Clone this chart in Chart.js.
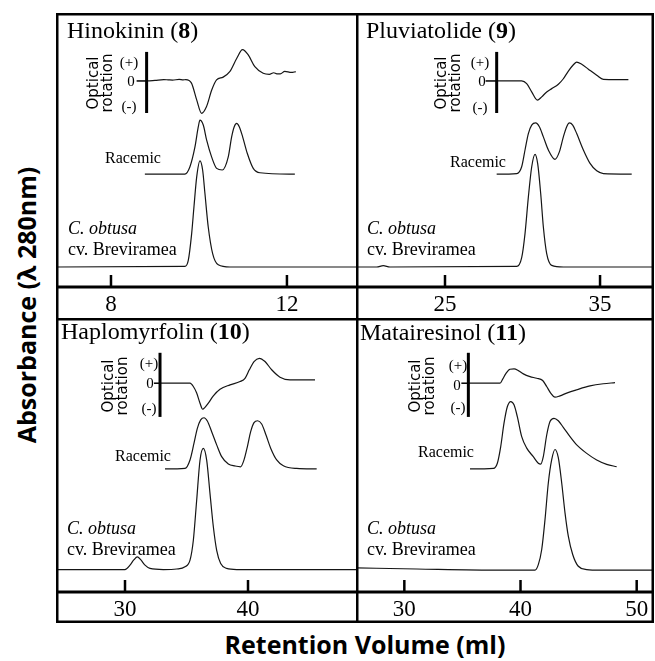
<!DOCTYPE html>
<html>
<head>
<meta charset="utf-8">
<title>Chiral HPLC of lignans</title>
<script src="https://cdn.jsdelivr.net/npm/chart.js@4.4.0/dist/chart.umd.min.js"></script>
<style>
  html, body { margin:0; padding:0; background:#fff; }
  #fig { position:relative; width:655px; height:661px; overflow:hidden; background:#fff; }
  #fig canvas { position:absolute; }
  .t { position:absolute; white-space:nowrap; line-height:1; color:#000;
       font-family:'Liberation Serif','Times New Roman',serif; }
  .title { font-size:24px; }
  .samp { font-size:18px; line-height:21px; }
  .rac { font-size:16px; }
  .orl { font-size:15px; transform:translate(-50%,-50%); }
  .orname { font-family:'DejaVu Sans',sans-serif; font-size:15px; line-height:14px; text-align:center;
            transform:translate(-50%,-50%) rotate(-90deg); }
  .axt { font-family:'Open Sans',sans-serif; font-weight:bold; font-size:25px; }
</style>
</head>
<body>
<div id="fig">
  <canvas id="c1" width="300" height="305" style="left:56px;top:13px"></canvas>
  <canvas id="c2" width="298" height="305" style="left:356px;top:13px"></canvas>
  <canvas id="c3" width="300" height="305" style="left:56px;top:318px"></canvas>
  <canvas id="c4" width="298" height="305" style="left:356px;top:318px"></canvas>

  <!-- panel labels -->
  <div class="t title" style="left:67px;top:18px">Hinokinin (<b>8</b>)</div>
  <div class="t title" style="left:366px;top:18px">Pluviatolide (<b>9</b>)</div>
  <div class="t title" style="left:61px;top:319px">Haplomyrfolin (<b>10</b>)</div>
  <div class="t title" style="left:360px;top:320px">Matairesinol (<b>11</b>)</div>

  <div class="t samp" style="left:68px;top:218px"><i>C. obtusa</i><br>cv. Breviramea</div>
  <div class="t samp" style="left:367px;top:218px"><i>C. obtusa</i><br>cv. Breviramea</div>
  <div class="t samp" style="left:67px;top:518px"><i>C. obtusa</i><br>cv. Breviramea</div>
  <div class="t samp" style="left:367px;top:518px"><i>C. obtusa</i><br>cv. Breviramea</div>

  <div class="t rac" style="left:105px;top:150px">Racemic</div>
  <div class="t rac" style="left:450px;top:154px">Racemic</div>
  <div class="t rac" style="left:115px;top:448px">Racemic</div>
  <div class="t rac" style="left:418px;top:444px">Racemic</div>

  <!-- optical rotation insets -->
  <div class="t orname" style="left:100px;top:83px">Optical<br>rotation</div>
  <div class="t orl" style="left:129px;top:62px">(+)</div>
  <div class="t orl" style="left:131px;top:81px">0</div>
  <div class="t orl" style="left:129px;top:106px">(-)</div>

  <div class="t orname" style="left:448px;top:83px">Optical<br>rotation</div>
  <div class="t orl" style="left:480px;top:62px">(+)</div>
  <div class="t orl" style="left:482px;top:81px">0</div>
  <div class="t orl" style="left:480px;top:107px">(-)</div>

  <div class="t orname" style="left:115px;top:386px">Optical<br>rotation</div>
  <div class="t orl" style="left:149px;top:363px">(+)</div>
  <div class="t orl" style="left:150px;top:383px">0</div>
  <div class="t orl" style="left:149px;top:408px">(-)</div>

  <div class="t orname" style="left:422px;top:386px">Optical<br>rotation</div>
  <div class="t orl" style="left:458px;top:365px">(+)</div>
  <div class="t orl" style="left:457px;top:385px">0</div>
  <div class="t orl" style="left:458px;top:407px">(-)</div>

  <!-- axis titles -->
  <div class="t axt" style="left:26px;top:305px;transform:translate(-50%,-50%) rotate(-90deg)">Absorbance (λ 280nm)</div>
  <div class="t axt" style="left:365px;top:632px;transform:translateX(-50%)">Retention Volume (ml)</div>
</div>

<script>
/* Chiral HPLC traces — optical rotation / racemic / C. obtusa per lignan */

// x ranges (ml) and tick labels per panel
const hinoRange = [6.75, 13.57],   hinoTicks = [8, 12];
const pluRange  = [19.26, 38.48],  pluTicks  = [25, 35];
const hapRange  = [24.39, 48.78],  hapTicks  = [30, 40];
const matRange  = [25.84, 51.49],  matTicks  = [30, 40, 50];

// Hinokinin (8)
const hinoOrVol  = [8.81, 9.0, 9.2, 9.3, 9.4, 9.55, 9.64, 9.7, 9.83, 9.95, 10.06, 10.17, 10.29, 10.40, 10.55, 10.70, 10.86, 10.99, 11.12, 11.27, 11.46, 11.6, 11.7, 11.77, 11.85, 11.95, 12.1, 12.20];
const hinoOrVal  = [0, 0.2, 0.5, 0.4, 0.3, 0.6, 0.4, 0.5, -0.8, -7.0, -11.8, -9.4, -3.3, 0.4, 1.4, 3.4, 8.3, 11.4, 9.5, 5.2, 2.8, 2.4, 3.0, 2.6, 2.6, 3.5, 3.1, 3.4];
const hinoRacVol = [8.77, 9.68, 9.795, 9.909, 9.984, 10.023, 10.098, 10.175, 10.289, 10.402, 10.53, 10.666, 10.743, 10.802, 10.857, 10.916, 10.993, 11.098, 11.234, 11.386, 12.18];
const hinoRacVal = [0, 0, 2.7, 9.9, 17.2, 19.7, 17.9, 12.4, 6.2, 2.1, 1.5, 6.3, 13.6, 17.3, 18.5, 17.3, 13.6, 7.6, 2.1, 0.5, 0];
const hinoObtVol = [6.75, 9.68, 9.757, 9.834, 9.886, 9.948, 10.023, 10.084, 10.136, 10.211, 10.311, 10.439, 10.705, 13.57];
const hinoObtVal = [0, 0.2, 2.4, 12.2, 21.9, 32.8, 38.7, 35.3, 26.8, 14.6, 4.9, 0.8, 0, 0];

// Pluviatolide (9)
const pluOrVol  = [28.333, 29.946, 30.269, 30.591, 30.957, 31.237, 31.559, 31.882, 32.312, 32.634, 32.957, 33.280, 33.495, 33.817, 34.247, 34.785, 35.215, 36.075, 36.828];
const pluOrVal  = [0, 0, -1.0, -4.0, -7.0, -5.8, -4.0, -2.8, -1.2, 0.8, 3.6, 5.9, 6.9, 6.1, 4.3, 2.1, 0.6, 0.5, 0.5];
const pluRacVol = [28.333, 29.624, 29.946, 30.161, 30.376, 30.591, 30.849, 31.086, 31.344, 31.667, 32.097, 32.376, 32.634, 32.849, 33.022, 33.237, 33.495, 33.925, 34.355, 34.785, 35.215, 37.043];
const pluRacVal = [0, 0.2, 2.7, 8.8, 14.8, 17.9, 18.7, 17.3, 13.6, 8.8, 5.4, 8.1, 13.6, 17.3, 18.7, 17.9, 14.8, 8.8, 3.9, 1.2, 0.2, 0];
const pluObtVol = [19.26, 20.59, 21.02, 21.45, 29.624, 29.946, 30.161, 30.376, 30.591, 30.806, 30.978, 31.172, 31.344, 31.559, 31.882, 32.634, 38.48];
const pluObtVal = [0, 0, 0.5, 0, 0.2, 3.4, 12.2, 25.5, 36.5, 41.1, 37.7, 26.8, 14.6, 4.9, 0.6, 0, 0];

// Haplomyrfolin (10)
const hapOrVol  = [32.846, 35.285, 35.556, 35.827, 36.098, 36.314, 36.504, 36.775, 37.182, 37.724, 38.537, 39.350, 39.756, 40.108, 40.488, 40.922, 41.382, 41.924, 42.602, 43.415, 45.447];
const hapOrVal  = [0, 0, -1.2, -3.6, -7.3, -9.5, -8.8, -7.3, -4.6, -2.2, -0.6, 0.6, 1.8, 4.9, 7.9, 9.1, 7.9, 4.9, 2.2, 1.2, 1.2];
const hapRacVol = [33.252, 34.878, 35.285, 35.610, 35.881, 36.152, 36.423, 36.694, 37.046, 37.453, 37.859, 38.401, 38.943, 39.404, 39.675, 39.946, 40.217, 40.488, 40.786, 41.111, 41.463, 41.843, 42.331, 42.873, 43.957, 45.583];
const hapRacVal = [0, 0.2, 3.3, 9.4, 14.8, 17.9, 18.7, 17.5, 13.6, 8.8, 4.5, 1.8, 1.1, 0.8, 3.3, 8.1, 13.6, 16.9, 17.6, 16.4, 12.4, 7.6, 3.3, 1.2, 0.2, 0];
const hapObtVol = [24.39, 30.0, 30.407, 30.732, 31.0, 31.274, 31.626, 32.033, 33.117, 34.201, 34.878, 35.285, 35.556, 35.827, 36.098, 36.369, 36.640, 36.911, 37.182, 37.453, 37.778, 38.266, 39.079, 48.78];
const hapObtVal = [0, 0, 1.6, 3.6, 4.6, 3.6, 1.6, 0.4, 0, 0.2, 1.0, 3.4, 10.7, 25.3, 39.9, 44.2, 39.9, 27.7, 15.6, 7.0, 2.2, 0.4, 0, 0];

// Matairesinol (11)
const matOrVol  = [35.511, 38.236, 38.465, 38.752, 39.096, 39.440, 39.813, 40.244, 40.818, 41.392, 41.908, 42.252, 42.596, 42.969, 43.399, 43.972, 44.833, 45.981, 47.126, 48.133];
const matOrVal  = [0, 0, 1.5, 3.6, 5.1, 5.2, 4.6, 3.4, 2.4, 1.8, 1.0, -1.2, -3.6, -5.1, -4.6, -3.6, -2.4, -1.0, -0.2, 0.2];
const matRacVol = [35.654, 37.662, 38.006, 38.293, 38.580, 38.864, 39.157, 39.440, 39.725, 40.103, 40.534, 41.101, 41.532, 41.739, 41.962, 42.255, 42.539, 42.883, 43.253, 43.683, 44.260, 44.836, 45.697, 46.558, 47.418, 48.279];
const matRacVal = [0, 0.2, 2.1, 8.1, 16.7, 22.7, 24.6, 23.4, 19.1, 11.8, 7.6, 4.5, 2.1, 1.8, 4.5, 12.4, 17.3, 18.5, 17.6, 15.2, 11.8, 8.8, 5.7, 3.3, 1.7, 0.8];
const matObtVol = [25.84, 31.067, 38.236, 41.248, 41.532, 41.825, 42.108, 42.393, 42.685, 42.969, 43.253, 43.546, 43.830, 44.114, 44.492, 44.974, 45.697, 46.842, 51.49];
const matObtVal = [0.6, 0.2, -0.2, -0.2, 1.8, 7.3, 18.2, 31.6, 40.1, 43.8, 40.8, 31.6, 20.7, 12.2, 5.5, 1.2, 0, -0.2, -0.2];

// vertical stacking of the three traces (y axis runs 0..100)
const topBase = {obt: 7.3, rac: 41.2, or: 75.2};
const botBase = {obt: 8.2, rac: 44.9, or: 76.2};

function trace(vol, val, base){ return vol.map((v, i) => ({x: v, y: base + val[i]})); }

// frame lines, inward x ticks and the little optical-rotation axis
const frame = {
  id: 'frame',
  afterDraw(chart, args, o){
    const {ctx, chartArea: a, width, height} = chart;
    const sx = chart.scales.x, sy = chart.scales.y;
    ctx.save();
    ctx.strokeStyle = '#000';
    ctx.lineWidth = 2.5;
    ctx.beginPath();
    ctx.moveTo(0, 1.25); ctx.lineTo(width, 1.25);
    ctx.moveTo(1.25, 0); ctx.lineTo(1.25, height);
    if(o.right){ ctx.moveTo(width - 1.25, 0); ctx.lineTo(width - 1.25, height); }
    if(o.bottom){ ctx.moveTo(0, height - 1.25); ctx.lineTo(width, height - 1.25); }
    ctx.stroke();
    ctx.lineWidth = 3;
    ctx.beginPath(); ctx.moveTo(0, a.bottom); ctx.lineTo(width, a.bottom); ctx.stroke();
    ctx.lineWidth = 2.5;
    sx.ticks.forEach(t => {
      const px = sx.getPixelForValue(t.value);
      ctx.beginPath(); ctx.moveTo(px, a.bottom); ctx.lineTo(px, a.bottom - 12); ctx.stroke();
    });
    const ax = sx.getPixelForValue(o.orX);
    ctx.lineWidth = 3;
    ctx.beginPath();
    ctx.moveTo(ax, sy.getPixelForValue(o.orZero + o.up));
    ctx.lineTo(ax, sy.getPixelForValue(o.orZero - o.down));
    ctx.stroke();
    const zy = sy.getPixelForValue(o.orZero);
    ctx.lineWidth = 1.5;
    ctx.beginPath(); ctx.moveTo(ax - o.zeroTick, zy); ctx.lineTo(ax, zy); ctx.stroke();
    ctx.restore();
  }
};

function panel(id, range, ticks, sets, fr){
  new Chart(document.getElementById(id), {
    type: 'line',
    data: { datasets: sets.map(d => ({
      data: d, borderColor: '#151515', borderWidth: 1.2, pointRadius: 0,
      cubicInterpolationMode: 'monotone', fill: false
    })) },
    options: {
      responsive: false, animation: false, devicePixelRatio: 1,
      layout: { padding: 0 },
      plugins: { legend: {display: false}, tooltip: {enabled: false}, frame: fr },
      scales: {
        x: {
          type: 'linear', min: range[0], max: range[1],
          grid: { display: false, drawTicks: false }, border: { display: false },
          ticks: { color: '#000', font: { family: "'Liberation Serif', serif", size: 23 }, padding: 4, maxRotation: 0 },
          afterBuildTicks: s => { s.ticks = ticks.map(v => ({value: v})); },
          afterFit: s => { s.height = 31; }
        },
        y: { display: false, min: 0, max: 100 }
      }
    },
    plugins: [frame]
  });
}

panel('c1', hinoRange, hinoTicks, [
  trace(hinoOrVol, hinoOrVal, topBase.or),
  trace(hinoRacVol, hinoRacVal, topBase.rac),
  trace(hinoObtVol, hinoObtVal, topBase.obt)
], {orX: hinoOrVol[0], orZero: topBase.or, up: 10.6, down: 11.7, zeroTick: 10});

panel('c2', pluRange, pluTicks, [
  trace(pluOrVol, pluOrVal, topBase.or),
  trace(pluRacVol, pluRacVal, topBase.rac),
  trace(pluObtVol, pluObtVal, topBase.obt)
], {orX: pluOrVol[0], orZero: topBase.or, up: 10.6, down: 11.7, zeroTick: 11, right: true});

panel('c3', hapRange, hapTicks, [
  trace(hapOrVol, hapOrVal, botBase.or),
  trace(hapRacVol, hapRacVal, botBase.rac),
  trace(hapObtVol, hapObtVal, botBase.obt)
], {orX: hapOrVol[0], orZero: botBase.or, up: 11.1, down: 12.3, zeroTick: 6, bottom: true});

panel('c4', matRange, matTicks, [
  trace(matOrVol, matOrVal, botBase.or),
  trace(matRacVol, matRacVal, botBase.rac),
  trace(matObtVol, matObtVal, botBase.obt)
], {orX: matOrVol[0], orZero: botBase.or, up: 11.1, down: 12.3, zeroTick: 7, right: true, bottom: true});
</script>
</body>
</html>
